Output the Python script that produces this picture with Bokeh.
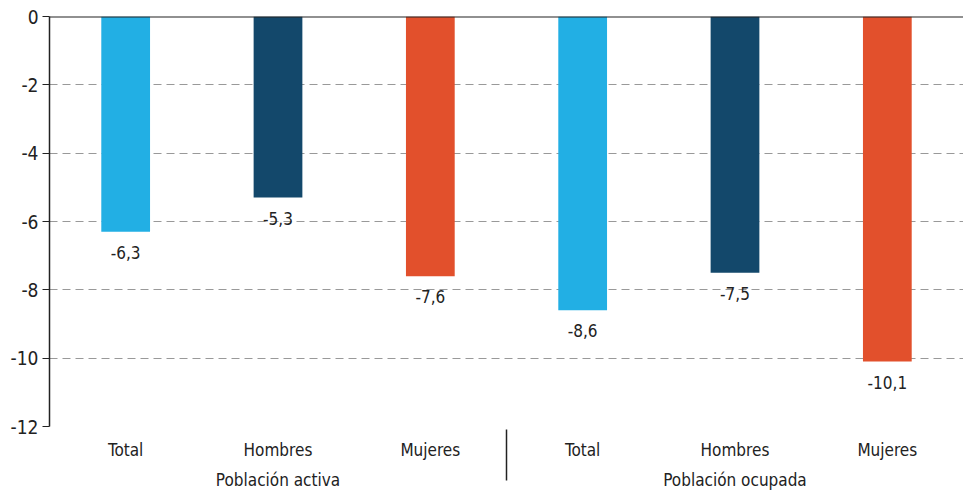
from bokeh.plotting import figure
from bokeh.models import FactorRange, ColumnDataSource, FixedTicker, Span, LabelSet
from bokeh.transform import factor_cmap
from bokeh.core.properties import value
from bokeh.embed import file_html
from bokeh.resources import INLINE

groups = ["Población activa", "Población ocupada"]
subcats = ["Total", "Hombres", "Mujeres"]
values_activa = [-6.3, -5.3, -7.6]
values_ocupada = [-8.6, -7.5, -10.1]
colors = ["#22AFE4", "#13486B", "#E2502C"]
y_ticks = [0, -2, -4, -6, -8, -10, -12]

FONT = "DejaVu Sans Condensed"

factors = [(g, s) for g in groups for s in subcats]
vals = values_activa + values_ocupada
src = ColumnDataSource(dict(
    x=factors,
    v=vals,
    txt=[f"{v:.1f}".replace(".", ",") for v in vals],
))

p = figure(
    x_range=FactorRange(*factors, factor_padding=0, group_padding=0, range_padding=0),
    y_range=(-12, 0),
    width=963, height=492,
    output_backend="svg", toolbar_location=None,
    min_border_left=49, min_border_right=0, min_border_top=16, min_border_bottom=0,
)
p.outline_line_color = None
p.background_fill_color = "white"

p.vbar(x="x", top="v", bottom=0, width=0.32, source=src, line_color=None,
       fill_color=factor_cmap("x", palette=colors, factors=subcats, start=1, end=2))

labels = LabelSet(x="x", y="v", text="txt", source=src, y_offset=-14,
                  text_align="center", text_baseline="top",
                  text_font=value(FONT), text_font_size=value("17px"),
                  text_color="#222222")
p.add_layout(labels)

p.add_layout(Span(location=0, dimension="width", line_color="#222222", line_width=2))

# y axis
p.yaxis.ticker = FixedTicker(ticks=y_ticks)
p.yaxis.major_label_overrides = {t: str(t) for t in y_ticks}
p.yaxis.axis_line_color = "#222222"
p.yaxis.axis_line_width = 1.5
p.yaxis.major_tick_line_color = "#222222"
p.yaxis.major_tick_out = 7
p.yaxis.major_tick_in = 0
p.yaxis.minor_tick_line_color = None
p.yaxis.major_label_text_font = FONT
p.yaxis.major_label_text_font_size = "19px"
p.yaxis.major_label_text_color = "#222222"
p.yaxis.major_label_standoff = 4

# grid
p.xgrid.grid_line_color = None
p.ygrid.ticker = FixedTicker(ticks=y_ticks[1:])
p.ygrid.grid_line_color = "#999999"
p.ygrid.grid_line_dash = "8 5"
p.ygrid.grid_line_width = 1

# x axis
xa = p.xaxis[0]
xa.axis_line_color = None
xa.major_tick_line_color = None
xa.major_label_text_font = FONT
xa.major_label_text_font_size = "17px"
xa.major_label_text_color = "#222222"
xa.major_label_standoff = 7
xa.group_text_font = FONT
xa.group_text_font_size = "17px"
xa.group_text_font_style = "normal"
xa.group_text_color = "#222222"
xa.separator_line_color = "#222222"
xa.separator_line_width = 1.5

open("out.html", "w").write(file_html(p, INLINE))
